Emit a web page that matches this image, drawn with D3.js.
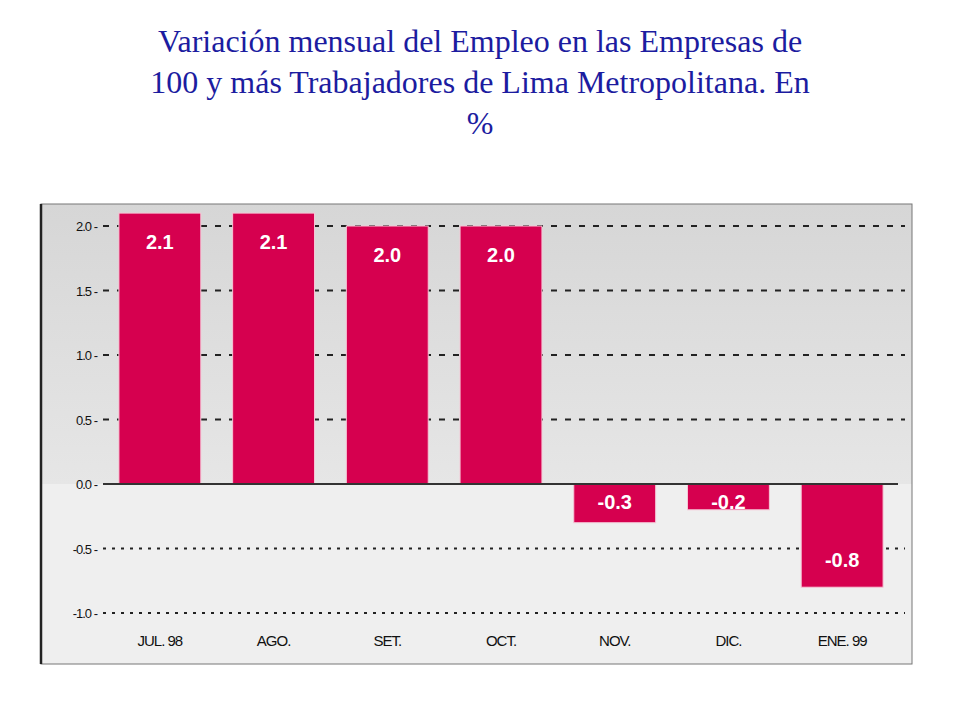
<!DOCTYPE html>
<html><head><meta charset="utf-8">
<script src="https://cdn.jsdelivr.net/npm/d3@7"></script>
<style>body{margin:0;background:#fff}</style></head>
<body><svg id="c" width="960" height="720"></svg>
<script>
const categories = ["JUL. 98","AGO.","SET.","OCT.","NOV.","DIC.","ENE. 99"];
const values = [2.1,2.1,2.0,2.0,-0.3,-0.2,-0.8];
const labels = ["2.1","2.1","2.0","2.0","-0.3","-0.2","-0.8"];
const ticks = [2.0,1.5,1.0,0.5,0.0,-0.5,-1.0];
const titleLines = ["Variación mensual del Empleo en las Empresas de","100 y más Trabajadores de Lima Metropolitana. En","%"];

const svg = d3.select("#c");
svg.selectAll("text.title").data(titleLines).join("text")
  .attr("x",480).attr("y",(d,i)=>52+i*41).attr("text-anchor","middle")
  .attr("font-family","Liberation Serif").attr("font-size",32).attr("fill","#1c1ca0").text(d=>d);

const y = d3.scaleLinear().domain([-1,2]).range([613,226]);
const x = d3.scaleBand().domain(categories).range([103,899]).paddingInner(0.28).paddingOuter(0.14);

const defs = svg.append("defs");
const g1 = defs.append("linearGradient").attr("id","bg").attr("x1",0).attr("x2",0).attr("y1",0).attr("y2",1);
g1.append("stop").attr("offset","0%").attr("stop-color","#d6d6d6");
g1.append("stop").attr("offset","100%").attr("stop-color","#e6e6e6");
svg.append("rect").attr("x",41).attr("y",204).attr("width",871).attr("height",y(0)-204).attr("fill","url(#bg)");
svg.append("rect").attr("x",41).attr("y",y(0)).attr("width",871).attr("height",664-y(0)).attr("fill","#efefef");
svg.append("rect").attr("x",41).attr("y",204).attr("width",871).attr("height",460).attr("fill","none").attr("stroke","#777").attr("stroke-width",1);
svg.append("line").attr("x1",41).attr("x2",41).attr("y1",204).attr("y2",664).attr("stroke","#222").attr("stroke-width",2.5);

// grid
svg.selectAll("line.grid").data(ticks.filter(t=>t!==0)).join("line")
  .attr("x1",103).attr("x2",905).attr("y1",d=>y(d)).attr("y2",d=>y(d))
  .attr("stroke","#222").attr("stroke-width",2).attr("stroke-dasharray",d=>d<0?"3,6":"6,8");
svg.selectAll("text.tick").data(ticks).join("text")
  .attr("x",97).attr("y",d=>y(d)+5).attr("text-anchor","end")
  .attr("font-family","Liberation Sans").attr("font-size",13).attr("letter-spacing",-1).attr("fill","#111")
  .text(d=>d.toFixed(1)+" -");

// bars
svg.selectAll("rect.bar").data(values).join("rect")
  .attr("x",(d,i)=>x(categories[i])).attr("width",x.bandwidth())
  .attr("y",d=>y(Math.max(0,d))).attr("height",d=>Math.abs(y(d)-y(0)))
  .attr("fill","#d6004f").attr("stroke","#f6c6d6").attr("stroke-width",1);
svg.append("line").attr("x1",103).attr("x2",898).attr("y1",y(0)).attr("y2",y(0)).attr("stroke","#333").attr("stroke-width",2);

svg.selectAll("text.val").data(values).join("text")
  .attr("x",(d,i)=>x(categories[i])+x.bandwidth()/2)
  .attr("y",d=> d>=0 ? y(d)+36 : (d>-0.5 ? y(0)+25 : y(d)-20))
  .attr("text-anchor","middle").attr("font-family","Liberation Sans").attr("font-weight","bold")
  .attr("font-size",20).attr("fill","#fff").text((d,i)=>labels[i]);

svg.selectAll("text.cat").data(categories).join("text")
  .attr("x",d=>x(d)+x.bandwidth()/2).attr("y",646).attr("text-anchor","middle")
  .attr("font-family","Liberation Sans").attr("font-size",15).attr("letter-spacing",-1).attr("fill","#111").text(d=>d);
</script></body></html>
